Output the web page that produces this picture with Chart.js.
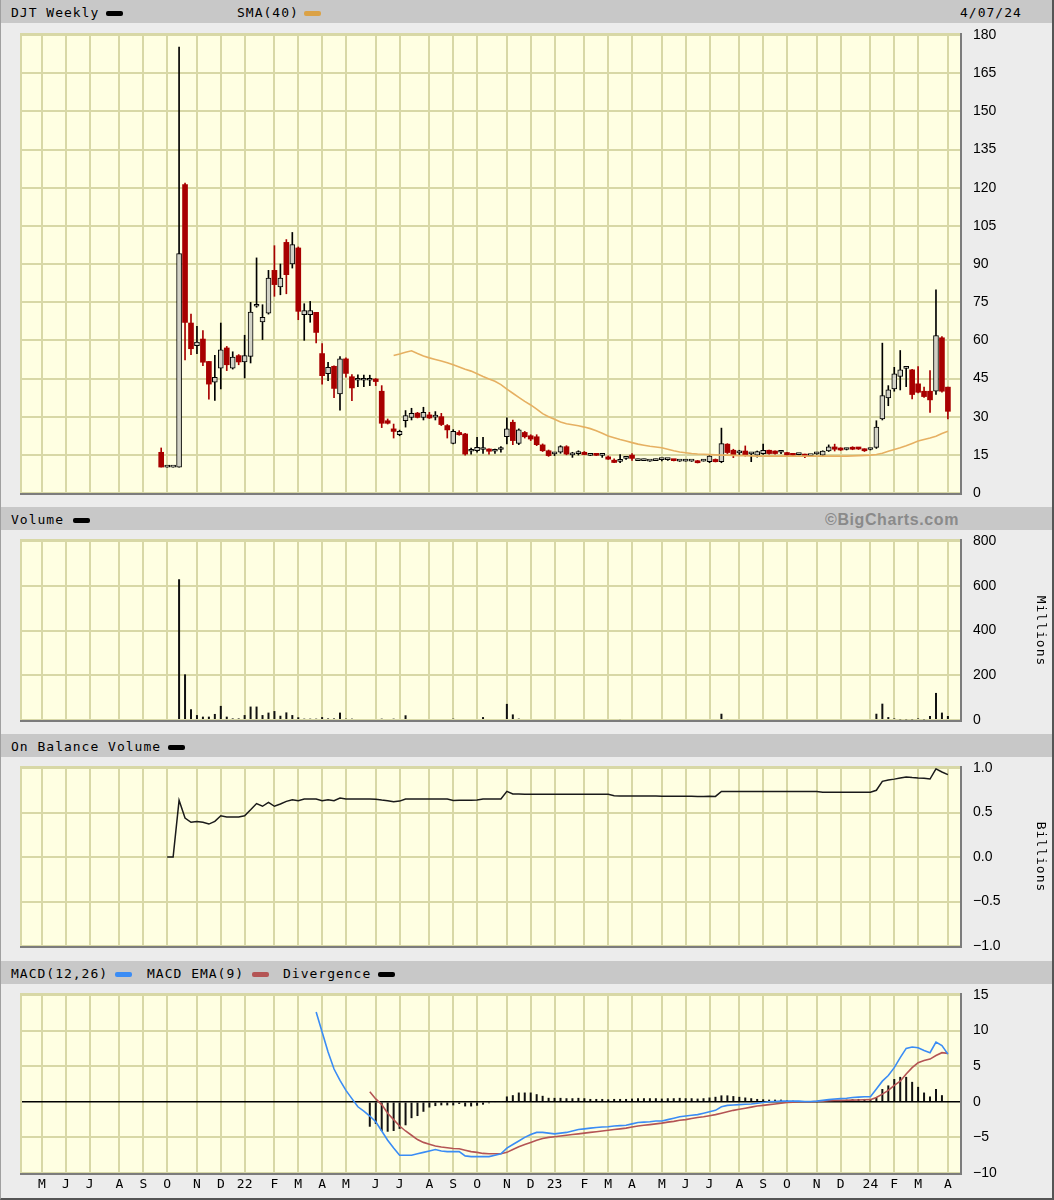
<!DOCTYPE html>
<html><head><meta charset="utf-8">
<script src="https://cdn.jsdelivr.net/npm/chart.js@4.4.1/dist/chart.umd.min.js"></script>
<style>
html,body{margin:0;padding:0;}
body{width:1054px;height:1200px;position:relative;background:#ececec;overflow:hidden;font-family:"DejaVu Sans Mono",monospace;}
.frame{position:absolute;left:0;top:0;width:1054px;height:1200px;box-sizing:border-box;border-right:2px solid #555;border-bottom:2px solid #555;border-left:1px solid #a0a0a0;pointer-events:none;z-index:10}
.hdr{position:absolute;left:0;width:1054px;height:23px;background:#c8c8c8;font-size:13px;letter-spacing:1px;color:#000;}
.hdr span{position:absolute;top:5px;line-height:15px;white-space:nowrap}
.sw{position:absolute;top:11px;height:5px;width:17px;border-radius:2px}
.plotbg{position:absolute;left:20px;width:940px;background:#ffffe2;border-left:2px solid #d8d8a6;border-top:2px solid #d8d8a6;box-sizing:border-box;z-index:0}
.dk{position:absolute;background:#7c7c7c;z-index:3}
canvas{position:absolute;left:0;z-index:2}
.unit{position:absolute;font-size:13px;letter-spacing:1px;color:#000;white-space:nowrap;transform:translate(-50%,-50%) rotate(90deg);z-index:4}
.bc{position:absolute;left:825px;top:2px;font-family:"Liberation Sans",Arial,sans-serif;font-weight:bold;font-size:16px;letter-spacing:0.6px;color:#8a8a8a}
</style></head>
<body>
<div class="frame"></div>

<div class="hdr" style="top:0"><span style="left:11px">DJT Weekly</span><div class="sw" style="left:106px;background:#000"></div>
<span style="left:237px">SMA(40)</span><div class="sw" style="left:304px;background:#dba246"></div>
<span style="left:960px">4/07/24</span></div>
<div class="hdr" style="top:507px"><span style="left:11px">Volume</span><div class="sw" style="left:73px;background:#000"></div><span class="bc">©BigCharts.com</span></div>
<div class="hdr" style="top:734px"><span style="left:11px">On Balance Volume</span><div class="sw" style="left:168px;background:#000"></div></div>
<div class="hdr" style="top:961px"><span style="left:11px">MACD(12,26)</span><div class="sw" style="left:115px;background:#3a8cf5"></div>
<span style="left:147px">MACD EMA(9)</span><div class="sw" style="left:252px;background:#b45454"></div>
<span style="left:283px">Divergence</span><div class="sw" style="left:378px;background:#000"></div></div>

<div class="plotbg" style="top:33px;height:460px"></div>
<div class="dk" style="left:960px;top:33px;width:2px;height:462px"></div>
<div class="dk" style="left:20px;top:493px;width:942px;height:2px"></div>

<div class="plotbg" style="top:539px;height:181px"></div>
<div class="dk" style="left:960px;top:539px;width:2px;height:183px"></div>
<div class="dk" style="left:20px;top:720px;width:942px;height:2px"></div>

<div class="plotbg" style="top:766px;height:180px"></div>
<div class="dk" style="left:960px;top:766px;width:2px;height:182px"></div>
<div class="dk" style="left:20px;top:946px;width:942px;height:2px"></div>

<div class="plotbg" style="top:993px;height:180px"></div>
<div class="dk" style="left:960px;top:993px;width:2px;height:182px"></div>
<div class="dk" style="left:20px;top:1173px;width:942px;height:2px"></div>

<div class="unit" style="left:1041px;top:631px">Millions</div>
<div class="unit" style="left:1041px;top:857px">Billions</div>

<canvas id="cPrice" width="1054" height="483" style="top:24px"></canvas>
<canvas id="cVol" width="1054" height="204" style="top:530px"></canvas>
<canvas id="cObv" width="1054" height="204" style="top:757px"></canvas>
<canvas id="cMacd" width="1054" height="216" style="top:984px"></canvas>

<script>
// ---- categories: weeks counted from the week of May 3, 2021 (week 0) ----
const FIRST_WEEK = 20;            // week number of the first weekly candle
const monthTickWeeks = [0,4,8,13,17,21,26,30,34,39,43,47,51,56,60,65,69,73,78,82,86,91,95,99,104,108,112,117,121,125,130,134,139,143,147,152];
const monthLabels = ['M','J','J','A','S','O','N','D','22','F','M','A','M','J','J','A','S','O','N','D','23','F','M','A','M','J','J','A','S','O','N','D','24','F','M','A'];

// ---- weekly price (USD) ----
const open = [16.0,10.2,10.2,10.2,121.2,66.8,57.9,60.5,51.7,43.6,
 49.1,57.0,49.1,54.0,51.5,53.7,73.4,67.2,70.7,87.5,
 81.0,98.5,90.0,96.3,70.1,70.1,71.0,54.8,46.9,49.8,
 38.9,52.7,45.7,44.3,44.3,44.3,44.8,40.0,28.4,25.2,
 22.9,28.4,29.7,31.4,29.7,30.7,29.8,30.0,26.5,19.5,
 23.8,23.2,16.4,16.6,17.1,17.3,16.4,17.1,22.1,27.8,
 19.5,23.8,22.5,22.1,18.9,16.6,15.4,16.0,18.2,15.0,
 15.5,16.0,14.8,15.0,14.8,14.2,12.9,12.4,13.6,14.9,
 12.7,12.7,12.5,12.7,13.1,13.1,13.0,12.5,12.5,12.5,
 12.6,12.5,12.3,13.2,12.3,19.2,16.8,15.8,16.5,15.4,
 14.9,15.5,16.8,16.5,16.0,15.9,15.5,15.1,15.2,14.7,
 15.4,14.9,16.5,18.1,17.6,17.1,17.8,17.7,17.3,17.1,
 17.9,29.1,37.4,40.9,45.8,49.0,48.4,42.9,40.0,40.0,
 40.0,61.0,41.6];
const high = [17.7,10.2,10.2,175.3,121.8,70.3,65.5,63.8,51.7,54.1,
 66.8,57.6,55.5,54.4,62.0,74.9,92.4,74.0,87.5,97.2,
 90.0,99.6,102.4,96.7,74.4,75.3,71.0,58.7,51.4,50.0,
 53.6,53.1,46.5,46.4,46.3,46.3,45.0,42.2,29.1,27.1,
 24.7,32.4,33.3,31.7,33.7,31.7,32.0,31.3,26.9,24.9,
 24.5,23.5,17.7,21.9,21.9,17.4,17.3,18.2,29.5,28.7,
 25.2,24.2,22.9,22.9,19.3,16.9,16.0,18.6,18.6,16.0,
 16.6,16.3,15.1,15.1,15.3,14.6,13.4,15.1,14.3,15.5,
 13.3,13.3,12.8,13.3,13.6,13.6,13.1,12.8,13.2,12.8,
 12.8,13.2,15.2,13.4,25.5,19.4,17.2,16.8,18.5,15.9,
 16.5,19.2,16.9,16.6,16.8,16.0,15.6,15.5,15.3,15.0,
 16.0,16.6,18.9,19.2,17.8,17.6,18.2,17.8,17.4,17.4,
 28.4,58.9,42.2,49.4,56.0,49.7,48.6,49.7,41.6,48.1,
 79.8,61.5,41.6];
const low = [10.2,10.2,10.2,10.2,52.3,54.4,54.8,50.0,36.9,36.4,
 40.9,48.1,48.7,50.4,45.2,51.1,73.0,60.3,70.3,77.3,
 77.9,78.3,88.4,68.1,60.0,67.1,59.0,42.8,44.1,37.5,
 32.6,45.5,36.3,41.8,41.8,42.2,42.2,25.7,27.1,21.6,
 22.5,25.9,28.7,29.5,28.7,29.3,28.7,26.5,21.6,19.3,
 22.7,14.9,15.3,16.0,15.6,15.3,15.6,16.0,19.3,19.0,
 19.0,21.6,20.6,18.6,16.3,14.4,14.7,15.6,15.0,14.0,
 14.9,15.0,14.7,14.7,14.0,13.2,11.9,11.9,13.2,12.8,
 12.7,12.7,12.4,12.7,12.6,12.8,12.6,12.4,12.5,12.4,
 11.8,12.5,11.9,12.2,11.9,15.5,13.9,14.9,14.5,12.3,
 14.1,15.2,15.3,15.3,15.5,14.7,14.6,15.0,13.9,14.5,
 15.2,14.7,16.3,16.5,16.7,16.9,17.0,17.1,16.3,16.9,
 17.5,28.7,34.3,40.0,40.5,41.8,37.0,39.3,37.6,31.7,
 38.7,39.6,29.1];
const close = [10.2,10.2,10.2,94.1,67.0,56.7,59.3,51.4,42.8,45.5,
 56.3,50.4,53.4,51.5,54.0,71.1,73.8,69.0,84.5,81.9,
 84.5,85.8,97.6,71.4,71.7,71.7,63.1,46.1,49.4,41.1,
 52.7,47.0,41.3,44.7,44.6,44.6,43.8,27.4,27.4,24.2,
 24.2,30.4,31.3,29.7,31.7,29.5,30.2,26.9,24.8,24.2,
 22.9,15.3,16.8,17.9,17.5,16.4,16.8,17.5,25.2,20.6,
 24.8,22.1,21.2,19.0,16.6,14.7,15.8,18.2,15.3,15.2,
 15.7,15.1,15.0,14.8,14.9,13.3,12.0,12.8,13.8,13.6,
 12.9,12.9,12.6,12.9,13.3,13.3,12.7,12.6,12.7,12.6,
 11.9,12.7,14.5,12.3,19.4,15.9,14.9,16.0,14.9,15.6,
 16.3,16.8,15.5,15.5,16.2,14.9,14.8,15.2,14.5,14.8,
 15.5,16.5,18.1,17.2,16.9,17.2,17.2,17.3,16.6,17.2,
 25.9,38.3,40.5,46.8,48.4,49.4,38.7,39.6,37.9,36.6,
 61.9,40.0,32.1];
const sma40 = [null,null,null,null,null,null,null,null,null,null,
 null,null,null,null,null,null,null,null,null,null,
 null,null,null,null,null,null,null,null,null,null,
 null,null,null,null,null,null,null,null,null,54.0,
 54.6,55.3,55.9,54.8,53.8,53.1,52.5,51.9,51.2,50.4,
 49.5,48.6,47.9,46.9,45.8,44.8,43.9,42.6,40.8,39.2,
 37.6,36.0,34.6,33.0,31.2,30.0,29.0,27.9,27.2,26.8,
 26.4,25.9,25.3,24.5,23.5,22.4,21.7,21.0,20.4,19.8,
 19.2,18.8,18.4,18.1,17.8,17.2,16.6,16.1,15.8,15.5,
 15.3,15.2,15.1,15.0,14.9,14.9,14.8,14.7,14.7,14.6,
 14.5,14.5,14.5,14.5,14.5,14.5,14.5,14.5,14.5,14.5,
 14.5,14.5,14.5,14.5,14.5,14.5,14.6,14.7,14.8,14.9,
 15.1,15.6,16.4,17.1,17.8,18.6,19.5,20.4,21.0,21.6,
 22.3,23.4,24.3];

// ---- volume (millions) ----
const volume = [0,0,0,629,204,48,22,15,15,27,
 63,15,7,7,22,60,60,22,33,40,
 19,34,22,12,6,6,6,13,7,7,
 33,6,6,0,0,0,0,6,0,6,
 0,21,0,0,0,0,0,0,0,6,
 0,0,0,0,13,0,0,0,72,25,
 6,0,0,0,0,0,0,0,0,0,
 0,0,0,0,0,0,0,4,0,0,
 0,0,0,0,0,0,0,0,0,0,
 0,0,0,0,28,4,0,0,0,0,
 0,0,0,0,0,0,0,0,0,0,
 0,0,0,0,0,0,0,0,0,0,
 28,73,13,7,3,3,3,7,3,18,
 121,33,18];

// ---- on balance volume (billions) ----
const obv = [null,0,0,0.637,0.438,0.39,0.40,0.39,0.37,0.40,
 0.464,0.45,0.45,0.45,0.464,0.53,0.60,0.57,0.614,0.57,
 0.595,0.625,0.644,0.633,0.652,0.652,0.652,0.633,0.644,0.633,
 0.663,0.652,0.652,0.652,0.652,0.652,0.650,0.640,0.633,0.620,
 0.628,0.652,0.652,0.652,0.652,0.652,0.652,0.652,0.652,0.636,
 0.637,0.637,0.637,0.640,0.652,0.652,0.652,0.652,0.738,0.708,
 0.708,0.705,0.705,0.705,0.705,0.705,0.705,0.705,0.705,0.705,
 0.705,0.705,0.705,0.705,0.705,0.705,0.688,0.686,0.686,0.685,
 0.685,0.685,0.684,0.684,0.683,0.683,0.683,0.682,0.682,0.682,
 0.681,0.681,0.682,0.681,0.737,0.737,0.737,0.737,0.737,0.737,
 0.737,0.737,0.737,0.737,0.737,0.737,0.737,0.737,0.737,0.737,
 0.737,0.728,0.728,0.728,0.728,0.728,0.728,0.728,0.728,0.728,
 0.750,0.850,0.865,0.875,0.888,0.900,0.893,0.888,0.885,0.876,
 0.990,0.955,0.925];

// ---- MACD(12,26), EMA(9), divergence ----
const macd = [null,null,null,null,null,null,null,null,null,null,
 null,null,null,null,null,null,null,null,null,null,
 null,null,null,null,null,null,12.6,9.8,7.0,4.6,
 3.0,1.6,0.45,-0.7,-1.3,-2.0,-2.8,-4.1,-5.4,-6.5,
 -7.5,-7.5,-7.5,-7.3,-7.1,-6.9,-6.7,-6.9,-7.0,-7.0,
 -7.0,-7.6,-7.7,-7.7,-7.7,-7.7,-7.5,-7.3,-6.5,-6.0,
 -5.5,-5.0,-4.6,-4.3,-4.3,-4.4,-4.5,-4.4,-4.3,-4.1,
 -3.9,-3.8,-3.7,-3.6,-3.55,-3.5,-3.4,-3.35,-3.3,-3.1,
 -2.9,-2.85,-2.8,-2.7,-2.7,-2.5,-2.3,-2.1,-2.0,-1.9,
 -1.8,-1.6,-1.4,-1.2,-0.7,-0.5,-0.45,-0.4,-0.35,-0.3,
 -0.2,-0.1,0.0,0.05,0.1,0.1,0.1,0.1,0.05,0.05,
 0.1,0.2,0.3,0.4,0.45,0.5,0.6,0.65,0.7,0.7,
 1.8,2.9,3.7,4.8,6.2,7.5,7.7,7.6,7.2,6.9,
 8.4,7.9,6.7];
const macdEma = [null,null,null,null,null,null,null,null,null,null,
 null,null,null,null,null,null,null,null,null,null,
 null,null,null,null,null,null,null,null,null,null,
 null,null,null,null,null,1.4,0.4,-0.4,-1.6,-2.5,
 -3.4,-4.1,-4.7,-5.3,-5.7,-5.95,-6.2,-6.35,-6.45,-6.55,
 -6.6,-6.8,-7.0,-7.1,-7.25,-7.3,-7.3,-7.3,-7.1,-6.7,
 -6.3,-6.0,-5.7,-5.4,-5.15,-5.0,-4.9,-4.8,-4.7,-4.6,
 -4.5,-4.4,-4.3,-4.2,-4.1,-4.0,-3.9,-3.8,-3.7,-3.55,
 -3.4,-3.3,-3.2,-3.1,-3.0,-2.85,-2.75,-2.6,-2.5,-2.35,
 -2.2,-2.1,-1.95,-1.8,-1.6,-1.4,-1.2,-1.05,-0.9,-0.75,
 -0.6,-0.5,-0.4,-0.3,-0.2,-0.1,-0.05,0.0,0.0,0.0,
 0.05,0.1,0.15,0.2,0.2,0.22,0.23,0.25,0.28,0.3,
 0.6,1.07,1.6,2.3,2.9,3.9,4.8,5.5,5.8,6.0,
 6.5,6.9,6.8];
const divergence = [null,null,null,null,null,null,null,null,null,null,
 null,null,null,null,null,null,null,null,null,null,
 null,null,null,null,null,null,null,null,null,null,
 null,null,null,null,null,-3.5,-3.1,-4.1,-4.2,-4.1,
 -3.8,-3.3,-2.3,-2.0,-1.4,-0.8,-0.6,-0.5,-0.5,-0.5,
 -0.3,-0.65,-0.65,-0.55,-0.4,-0.2,-0.1,0.05,0.75,0.93,
 1.3,1.3,1.3,1.07,0.84,0.56,0.55,0.55,0.5,0.5,
 0.55,0.5,0.4,0.4,0.4,0.35,0.4,0.4,0.4,0.45,
 0.5,0.5,0.5,0.5,0.45,0.5,0.5,0.55,0.5,0.5,
 0.45,0.5,0.6,0.7,0.9,0.9,0.8,0.7,0.6,0.5,
 0.4,0.35,0.3,0.3,0.3,0.2,0.15,0.1,0.05,0.05,
 0.05,0.1,0.15,0.2,0.25,0.3,0.35,0.4,0.4,0.4,
 0.6,1.8,2.3,3.2,3.5,3.5,2.8,2.1,1.3,0.75,
 1.8,0.93,-0.1];

// ---- tick labels ----
const priceTicks = {min:0, max:180, step:15};
const volTicks = {min:0, max:800, step:200};
const obvTicks = {min:-1, max:1, step:0.5};
const macdTicks = {min:-10, max:15, step:5};

// ================= rendering =================
const X_MIN = -3.356, X_MAX = 154.03;
const GRID = '#d8d8a6';
const RED = '#a80000';
const HOLLOW = '#d2d2c6';
const MONO = '"DejaVu Sans Mono", monospace';
const SANS = '"Liberation Sans", Arial, sans-serif';
const weeks = close.map((_, k) => FIRST_WEEK + k);
const pts = arr => arr.map((v, k) => ({x: weeks[k], y: v}));
const isDown = k => close[k] < open[k];

Chart.defaults.animation = false;
Chart.defaults.events = [];
Chart.defaults.plugins.legend.display = false;
Chart.defaults.plugins.tooltip.enabled = false;

function xScale(showLabels) {
  return {
    type: 'linear', min: X_MIN, max: X_MAX, offset: false,
    afterBuildTicks: s => { s.ticks = monthTickWeeks.map(v => ({value: v})); },
    afterFit: s => { s.height = showLabels ? 20 : 0; s.paddingLeft = 0; s.paddingRight = 0; },
    grid: {color: GRID, lineWidth: 2, drawTicks: false, offset: false, z: -2},
    border: {display: false},
    ticks: {display: showLabels, autoSkip: false, maxRotation: 0, minRotation: 0, padding: 4,
      font: {family: MONO, size: 13}, color: '#000',
      callback: (v, i) => monthLabels[i]}
  };
}
function yScale(t, fmt, zeroLine) {
  return {
    type: 'linear', position: 'right', min: t.min, max: t.max,
    afterFit: s => { s.width = 60; s.paddingTop = 0; s.paddingBottom = 0; },
    grid: {drawTicks: false, z: -1,
      color: c => (zeroLine && c.tick && c.tick.value === 0) ? '#000' : GRID,
      lineWidth: c => (zeroLine && c.tick && c.tick.value === 0) ? 1.5 : 2},
    border: {display: false},
    ticks: {stepSize: t.step, padding: 13, font: {family: SANS, size: 14}, color: '#000', callback: fmt}
  };
}
const fmtMinus = v => (v < 0 ? '\u2212' + Math.abs(v) : String(v));

// price panel
new Chart(document.getElementById('cPrice'), {
  type: 'bar',
  data: {datasets: [
    {type: 'line', data: pts(sma40), borderColor: '#e6b062', borderWidth: 1.6, pointRadius: 0, spanGaps: false, order: 0},
    {type: 'bar', data: open.map((o, k) => ({x: weeks[k], y: [o, close[k]]})), grouped: false, barThickness: 5, minBarLength: 2,
      backgroundColor: c => isDown(c.dataIndex) ? RED : HOLLOW,
      borderColor: c => isDown(c.dataIndex) ? RED : '#000',
      borderWidth: c => isDown(c.dataIndex) ? 0 : 1, borderSkipped: false, order: 1},
    {type: 'bar', data: low.map((l, k) => ({x: weeks[k], y: [l, high[k]]})), grouped: false, barThickness: 1,
      backgroundColor: c => isDown(c.dataIndex) ? RED : '#000', borderWidth: 0, order: 2}
  ]},
  options: {responsive: false, layout: {padding: {left: 22, right: 34, top: 11, bottom: 14}},
    scales: {x: xScale(false), y: yScale(priceTicks, v => String(v), false)}}
});

// volume panel
new Chart(document.getElementById('cVol'), {
  type: 'bar',
  data: {datasets: [{data: pts(volume), grouped: false, barThickness: 2, backgroundColor: '#111', borderWidth: 0, inflateAmount: 0}]},
  options: {responsive: false, layout: {padding: {left: 22, right: 34, top: 11, bottom: 14}},
    scales: {x: xScale(false), y: yScale(volTicks, v => String(v), false)}}
});

// OBV panel
new Chart(document.getElementById('cObv'), {
  type: 'line',
  data: {datasets: [{data: pts(obv), borderColor: '#1a1a1a', borderWidth: 1.5, pointRadius: 0, spanGaps: false}]},
  options: {responsive: false, layout: {padding: {left: 22, right: 34, top: 11, bottom: 15}},
    scales: {x: xScale(false), y: yScale(obvTicks, v => (v < 0 ? '\u2212' : '') + Math.abs(v).toFixed(1), false)}}
});

// MACD panel
new Chart(document.getElementById('cMacd'), {
  type: 'bar',
  data: {datasets: [
    {type: 'line', data: pts(macd), borderColor: '#3a8cf5', borderWidth: 1.6, pointRadius: 0, order: 0},
    {type: 'line', data: pts(macdEma), borderColor: '#b45454', borderWidth: 1.6, pointRadius: 0, order: 1},
    {type: 'bar', data: pts(divergence), grouped: false, barThickness: 2, backgroundColor: '#111', borderWidth: 0, inflateAmount: 0, order: 2}
  ]},
  options: {responsive: false, layout: {padding: {left: 22, right: 34, top: 11, bottom: 7}},
    scales: {x: xScale(true), y: yScale(macdTicks, fmtMinus, true)}}
});
</script>
</body></html>
